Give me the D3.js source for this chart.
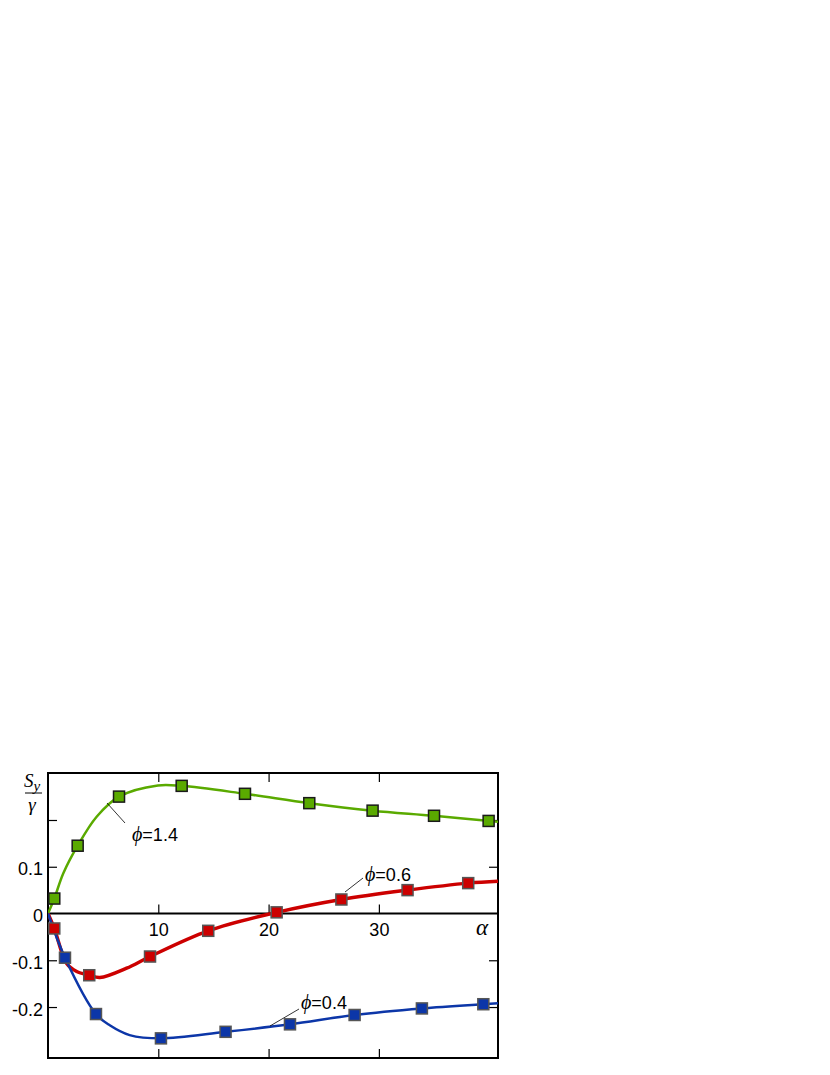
<!DOCTYPE html>
<html>
<head>
<meta charset="utf-8">
<script src="https://cdn.jsdelivr.net/npm/d3@7"></script>
<style>
  html, body { margin: 0; padding: 0; background: #fff; }
  svg { display: block; }
</style>
</head>
<body>
<svg id="chart" width="830" height="1075"></svg>
<script>
// ---- Data ----
const xTicks = [10, 20, 30];
const yTicks = [-0.2, -0.1, 0, 0.1, 0.2];
const yTickLabels = ["-0.2", "-0.1", "0", "0.1", ""];

// marker points
const green14X = [0.57, 2.69, 6.44, 12.12, 17.86, 23.69, 29.43, 35.0, 39.95];
const green14Y = [0.032, 0.145, 0.250, 0.273, 0.256, 0.236, 0.220, 0.209, 0.198];
const red06X = [0.57, 3.74, 9.25, 14.53, 20.73, 26.6, 32.6, 38.1];
const red06Y = [-0.032, -0.132, -0.092, -0.037, 0.0025, 0.030, 0.050, 0.065];
const blue04X = [1.54, 4.35, 10.24, 16.1, 21.94, 27.8, 33.9, 39.47];
const blue04Y = [-0.0945, -0.215, -0.267, -0.253, -0.237, -0.217, -0.203, -0.194];

// curve points
const greenCurveX = [0, 0.57, 1.39, 2.69, 4.41, 6.44, 9.96, 12.12, 17.86, 23.69, 29.43, 35.0, 40.8];
const greenCurveY = [0, 0.032, 0.086, 0.145, 0.207, 0.250, 0.274, 0.273, 0.256, 0.236, 0.220, 0.209, 0.196];
const redCurveX = [0, 0.57, 1.69, 2.6, 3.74, 4.7, 7.13, 9.25, 14.53, 20.73, 26.6, 32.6, 38.1, 40.8];
const redCurveY = [0, -0.032, -0.107, -0.124, -0.132, -0.137, -0.117, -0.092, -0.037, 0.0025, 0.030, 0.050, 0.065, 0.069];
const blueCurveX = [0, 1.54, 4.35, 5.6, 7.4, 10.24, 16.1, 21.94, 27.8, 33.9, 39.47, 40.8];
const blueCurveY = [0, -0.0945, -0.215, -0.239, -0.260, -0.267, -0.253, -0.237, -0.217, -0.203, -0.194, -0.192];

const seriesLabels = ["=1.4", "=0.6", "=0.4"];

// ---- Layout ----
const L = 48, R = 498, T = 773, B = 1058;
const x = d3.scaleLinear().domain([0, 40.8]).range([L, R]);
const y = d3.scaleLinear().domain([-0.309, 0.3005]).range([B, T]);

const svg = d3.select("#chart");
const FONT = "'Liberation Sans', Arial, sans-serif";
const SERIF = "'Liberation Serif', 'Times New Roman', serif";
const FS = 18;

// frame
svg.append("rect").attr("x", L).attr("y", T).attr("width", R - L).attr("height", B - T)
  .attr("fill", "none").attr("stroke", "#000").attr("stroke-width", 2);

function styleAxis(g) {
  g.select(".domain").remove();
  g.selectAll(".tick line").attr("stroke", "#000").attr("stroke-width", 1.2);
  g.selectAll("text").attr("font-family", FONT).attr("font-size", FS).attr("fill", "#000");
}

// top frame ticks
svg.append("g").attr("transform", `translate(0,${T})`)
  .call(d3.axisBottom(x).tickValues(xTicks).tickSizeInner(9).tickSizeOuter(0).tickFormat(""))
  .call(styleAxis);
// bottom frame ticks
svg.append("g").attr("transform", `translate(0,${B})`)
  .call(d3.axisTop(x).tickValues(xTicks).tickSizeInner(9).tickSizeOuter(0).tickFormat(""))
  .call(styleAxis);
// right frame ticks
svg.append("g").attr("transform", `translate(${R},0)`)
  .call(d3.axisLeft(y).tickValues(yTicks.filter(v => v !== 0)).tickSizeInner(9).tickSizeOuter(0).tickFormat(""))
  .call(styleAxis);
// left frame ticks + labels
const leftAx = svg.append("g").attr("transform", `translate(${L},0)`)
  .call(d3.axisLeft(y).tickValues(yTicks).tickSizeInner(-9).tickSizeOuter(0).tickPadding(5)
    .tickFormat((d, i) => yTickLabels[i]))
  .call(styleAxis);
leftAx.selectAll(".tick text").attr("dy", "0.45em");
leftAx.selectAll(".tick").filter(d => d === 0).select("line").remove();

// zero line with upward ticks and labels below
svg.append("line").attr("x1", L).attr("x2", R).attr("y1", y(0)).attr("y2", y(0))
  .attr("stroke", "#000").attr("stroke-width", 2);
svg.append("g").attr("transform", `translate(0,${y(0)})`)
  .call(d3.axisBottom(x).tickValues(xTicks).tickSizeInner(-9).tickSizeOuter(0).tickPadding(10)
    .tickFormat(d3.format("d")))
  .call(styleAxis);

// alpha label
svg.append("text").attr("x", 482).attr("y", 935).attr("text-anchor", "middle")
  .attr("font-family", SERIF).attr("font-style", "italic").attr("font-size", 23).text("α");

// y-axis label S_y / gamma
const yl = svg.append("g");
yl.append("text").attr("x", 24).attr("y", 787).attr("font-family", SERIF)
  .attr("font-style", "italic").attr("font-size", 19)
  .text("S").append("tspan").attr("font-size", 15).attr("dy", 4).text("y");
yl.append("line").attr("x1", 25).attr("x2", 42).attr("y1", 793).attr("y2", 793)
  .attr("stroke", "#000").attr("stroke-width", 1);
yl.append("text").attr("x", 32).attr("y", 811).attr("text-anchor", "middle").attr("font-family", SERIF)
  .attr("font-style", "italic").attr("font-size", 19).text("γ");

// ---- Curves ----
const line = d3.line().x(d => x(d[0])).y(d => y(d[1])).curve(d3.curveCatmullRom.alpha(0.5));
const series = [
  { cx: greenCurveX, cy: greenCurveY, mx: green14X, my: green14Y, color: "#5aaa00", width: 2.5, mstroke: "#1a1a1a" },
  { cx: redCurveX, cy: redCurveY, mx: red06X, my: red06Y, color: "#cc0000", width: 3.5, mstroke: "#555" },
  { cx: blueCurveX, cy: blueCurveY, mx: blue04X, my: blue04Y, color: "#0c36a8", width: 2.5, mstroke: "#555" }
];

const clip = svg.append("clipPath").attr("id", "plotclip");
clip.append("rect").attr("x", L).attr("y", T).attr("width", R - L).attr("height", B - T);

series.forEach(s => {
  const pts = s.cx.map((v, i) => [v, s.cy[i]]);
  svg.append("path").datum(pts).attr("d", line).attr("fill", "none")
    .attr("stroke", s.color).attr("stroke-width", s.width).attr("clip-path", "url(#plotclip)");
});

const M = 11;
series.forEach(s => {
  const pts = s.mx.map((v, i) => [v, s.my[i]]);
  svg.append("g").selectAll("rect").data(pts).join("rect")
    .attr("x", d => x(d[0]) - M / 2).attr("y", d => y(d[1]) - M / 2)
    .attr("width", M).attr("height", M)
    .attr("fill", s.color).attr("stroke", s.mstroke).attr("stroke-width", 1.5);
});

// ---- Annotations ----
const annos = [
  { tx: 132, ty: 841, lx1: 107, ly1: 803, lx2: 125, ly2: 823, label: seriesLabels[0] },
  { tx: 365, ty: 881, lx1: 345, ly1: 892, lx2: 363, ly2: 878, label: seriesLabels[1] },
  { tx: 301, ty: 1009, lx1: 270, ly1: 1026, lx2: 299, ly2: 1009, label: seriesLabels[2] }
];
annos.forEach(a => {
  svg.append("line").attr("x1", a.lx1).attr("y1", a.ly1).attr("x2", a.lx2).attr("y2", a.ly2)
    .attr("stroke", "#000").attr("stroke-width", 0.8);
  const t = svg.append("text").attr("x", a.tx).attr("y", a.ty).attr("font-size", FS).attr("font-family", FONT);
  t.append("tspan").attr("font-family", SERIF).attr("font-style", "italic").attr("font-size", 20).text("ϕ");
  t.append("tspan").text(a.label);
});
</script>
</body>
</html>
